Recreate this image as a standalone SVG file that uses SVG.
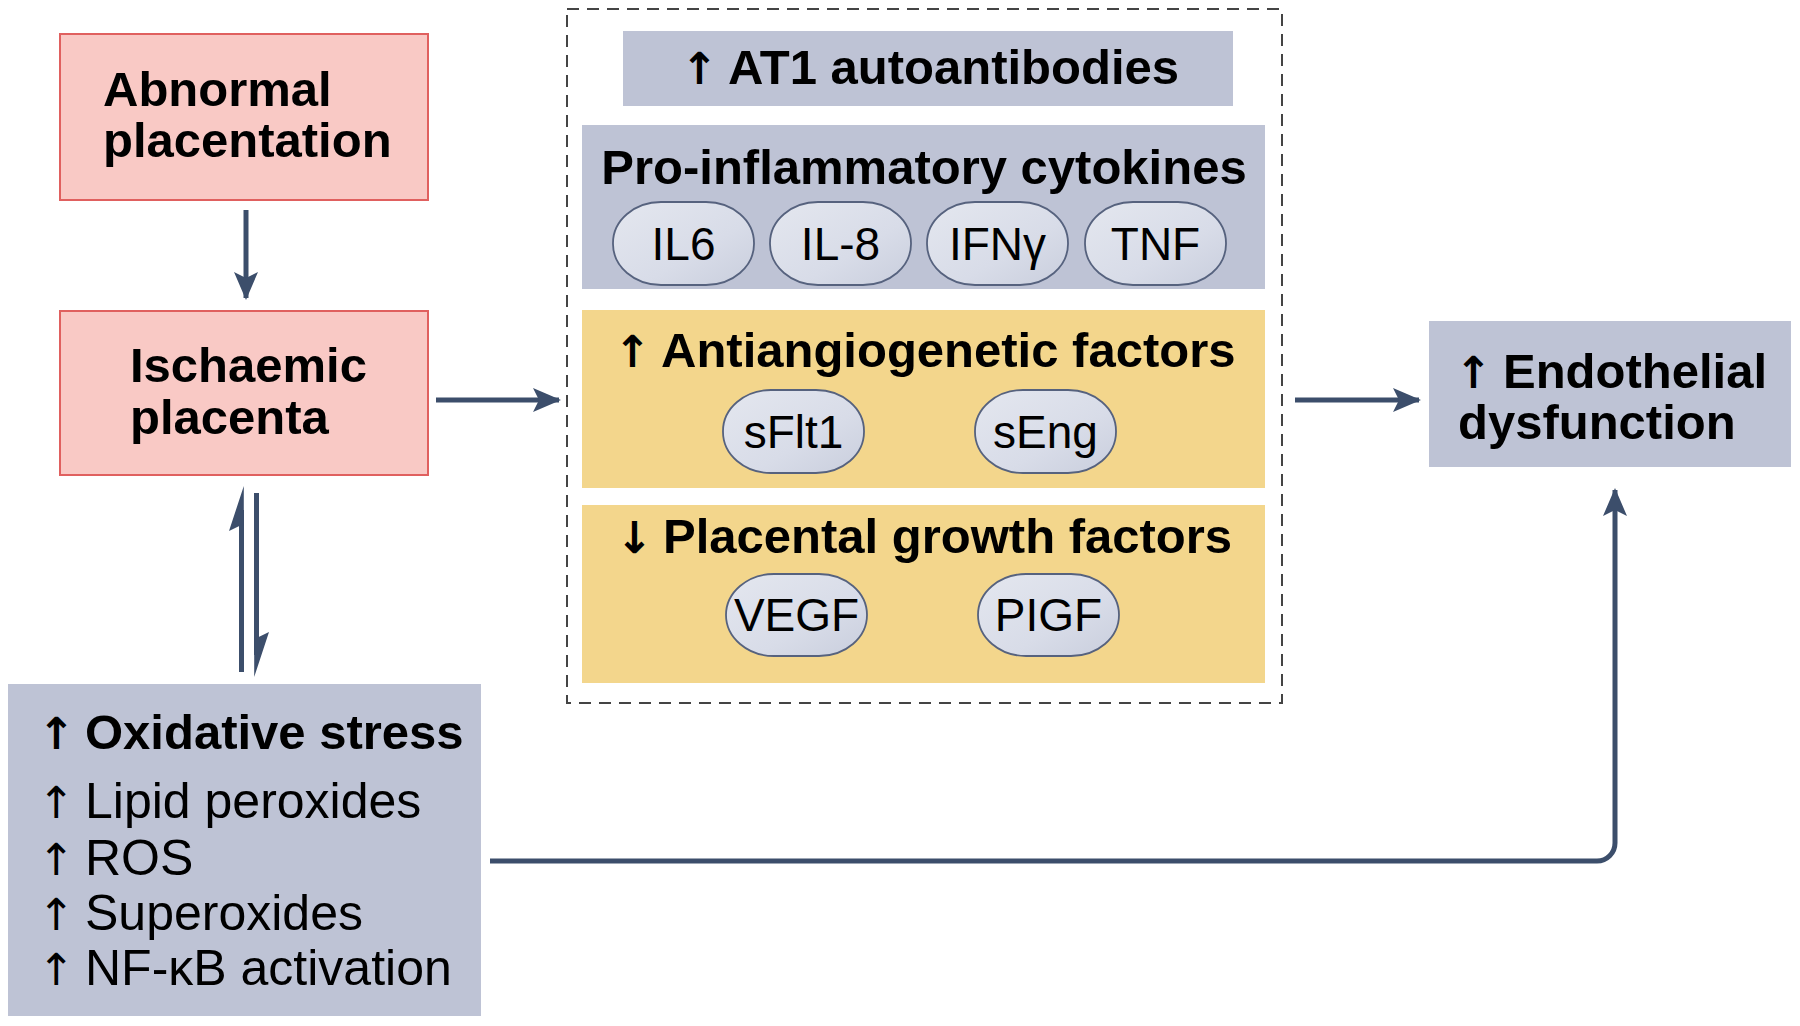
<svg xmlns="http://www.w3.org/2000/svg" width="1800" height="1026" viewBox="0 0 1800 1026">
<defs>
<style>
.pink{fill:#f9c9c5;stroke:#e0605f;stroke-width:2}
.grey{fill:#bec3d5}
.yellow{fill:#f3d68c}
.pill{fill:url(#pg);stroke:#56627e;stroke-width:1.8}
.b{font-family:"Liberation Sans",Arial,sans-serif;font-weight:bold;font-size:49px;fill:#000}
.r{font-family:"Liberation Sans",Arial,sans-serif;font-size:50px;fill:#000}
.p{font-family:"Liberation Sans",Arial,sans-serif;font-size:46px;fill:#000;text-anchor:middle}
.c{text-anchor:middle}
.ar{font-family:"DejaVu Sans",sans-serif;font-size:44px}
.con{stroke:#3c4e6b;stroke-width:5;fill:none}
.head{fill:#3c4e6b}
</style>
<linearGradient id="pg" x1="0" y1="0" x2="1" y2="1">
<stop offset="0" stop-color="#e4e7ef"/>
<stop offset="0.6" stop-color="#d8dce8"/>
<stop offset="1" stop-color="#c9cedd"/>
</linearGradient>
<marker id="ah" viewBox="0 0 28 24" refX="26" refY="12" markerWidth="28" markerHeight="24" markerUnits="userSpaceOnUse" orient="auto">
<path d="M0,0 L28,12 L0,24 L6,12 Z" fill="#3c4e6b"/>
</marker>
</defs>

<g id="abnormal-placentation">
<rect class="pink" x="60" y="34" width="368" height="166"/>
<text class="b" x="103" y="106">Abnormal</text>
<text class="b" x="103" y="157">placentation</text>
</g>

<g id="ischaemic-placenta">
<rect class="pink" x="60" y="311" width="368" height="164"/>
<text class="b" x="130" y="382">Ischaemic</text>
<text class="b" x="130" y="434">placenta</text>
</g>

<g id="factors-group">
<rect x="567" y="9" width="715" height="694" fill="none" stroke="#444" stroke-width="2" stroke-dasharray="12 8"/>
</g>

<g id="at1">
<rect class="grey" x="623" y="31" width="610" height="75"/>
<text class="b"><tspan class="ar" x="681" y="84">↑ </tspan><tspan x="728" y="84">AT1 autoantibodies</tspan></text>
</g>

<g id="cytokines">
<rect class="grey" x="582" y="125" width="683" height="164"/>
<text class="b c" x="924" y="184">Pro-inflammatory cytokines</text>
<g id="il6"><rect class="pill" x="613" y="202" width="141" height="83" rx="48" ry="41"/><text class="p" x="683.5" y="260">IL6</text></g>
<g id="il8"><rect class="pill" x="770" y="202" width="141" height="83" rx="48" ry="41"/><text class="p" x="840.5" y="260">IL-8</text></g>
<g id="ifng"><rect class="pill" x="927" y="202" width="141" height="83" rx="48" ry="41"/><text class="p" x="997.5" y="260">IFNγ</text></g>
<g id="tnf"><rect class="pill" x="1085" y="202" width="141" height="83" rx="48" ry="41"/><text class="p" x="1155.5" y="260">TNF</text></g>
</g>

<g id="antiangiogenetic">
<rect class="yellow" x="582" y="310" width="683" height="178"/>
<text class="b"><tspan class="ar" x="614" y="367">↑ </tspan><tspan x="661" y="367">Antiangiogenetic factors</tspan></text>
<g id="sflt1"><rect class="pill" x="723" y="390" width="141" height="83" rx="48" ry="41"/><text class="p" x="793.5" y="448">sFlt1</text></g>
<g id="seng"><rect class="pill" x="975" y="390" width="141" height="83" rx="48" ry="41"/><text class="p" x="1045.5" y="448">sEng</text></g>
</g>

<g id="placental-growth">
<rect class="yellow" x="582" y="505" width="683" height="178"/>
<text class="b"><tspan class="ar" x="616" y="553">↓ </tspan><tspan x="663" y="553">Placental growth factors</tspan></text>
<g id="vegf"><rect class="pill" x="726" y="574" width="141" height="82" rx="48" ry="41"/><text class="p" x="796.5" y="631">VEGF</text></g>
<g id="pigf"><rect class="pill" x="978" y="574" width="141" height="82" rx="48" ry="41"/><text class="p" x="1048.5" y="631">PIGF</text></g>
</g>

<g id="endothelial-dysfunction">
<rect class="grey" x="1429" y="321" width="362" height="146"/>
<text class="b"><tspan class="ar" x="1455" y="388">↑ </tspan><tspan x="1503" y="388">Endothelial</tspan></text>
<text class="b" x="1458" y="439">dysfunction</text>
</g>

<g id="oxidative-stress">
<rect class="grey" x="8" y="684" width="473" height="332"/>
<text class="b"><tspan class="ar" x="38" y="749">↑ </tspan><tspan x="85" y="749">Oxidative stress</tspan></text>
<text class="r"><tspan class="ar" x="38" y="818" font-weight="normal">↑ </tspan><tspan x="85" y="818">Lipid peroxides</tspan></text>
<text class="r"><tspan class="ar" x="38" y="875">↑ </tspan><tspan x="85" y="875">ROS</tspan></text>
<text class="r"><tspan class="ar" x="38" y="930">↑ </tspan><tspan x="85" y="930">Superoxides</tspan></text>
<text class="r"><tspan class="ar" x="38" y="985">↑ </tspan><tspan x="85" y="985">NF-κB activation</tspan></text>
</g>

<g id="connectors">
<line class="con" x1="246" y1="210" x2="246" y2="298" marker-end="url(#ah)"/>
<line class="con" x1="436" y1="400" x2="559" y2="400" marker-end="url(#ah)"/>
<line class="con" x1="1295" y1="400" x2="1419" y2="400" marker-end="url(#ah)"/>
<path class="con" d="M490,861 H1597 A18,18 0 0 0 1615,843 V490" marker-end="url(#ah)"/>
<line class="con" x1="241.5" y1="672" x2="241.5" y2="510" stroke-width="4.5"/>
<path class="head" d="M243.8,486 L229,531 L239.3,526 L243.8,526 Z"/>
<line class="con" x1="256.5" y1="493" x2="256.5" y2="655" stroke-width="4.5"/>
<path class="head" d="M254.2,677 L269,632 L258.7,637 L254.2,637 Z"/>
</g>
</svg>
